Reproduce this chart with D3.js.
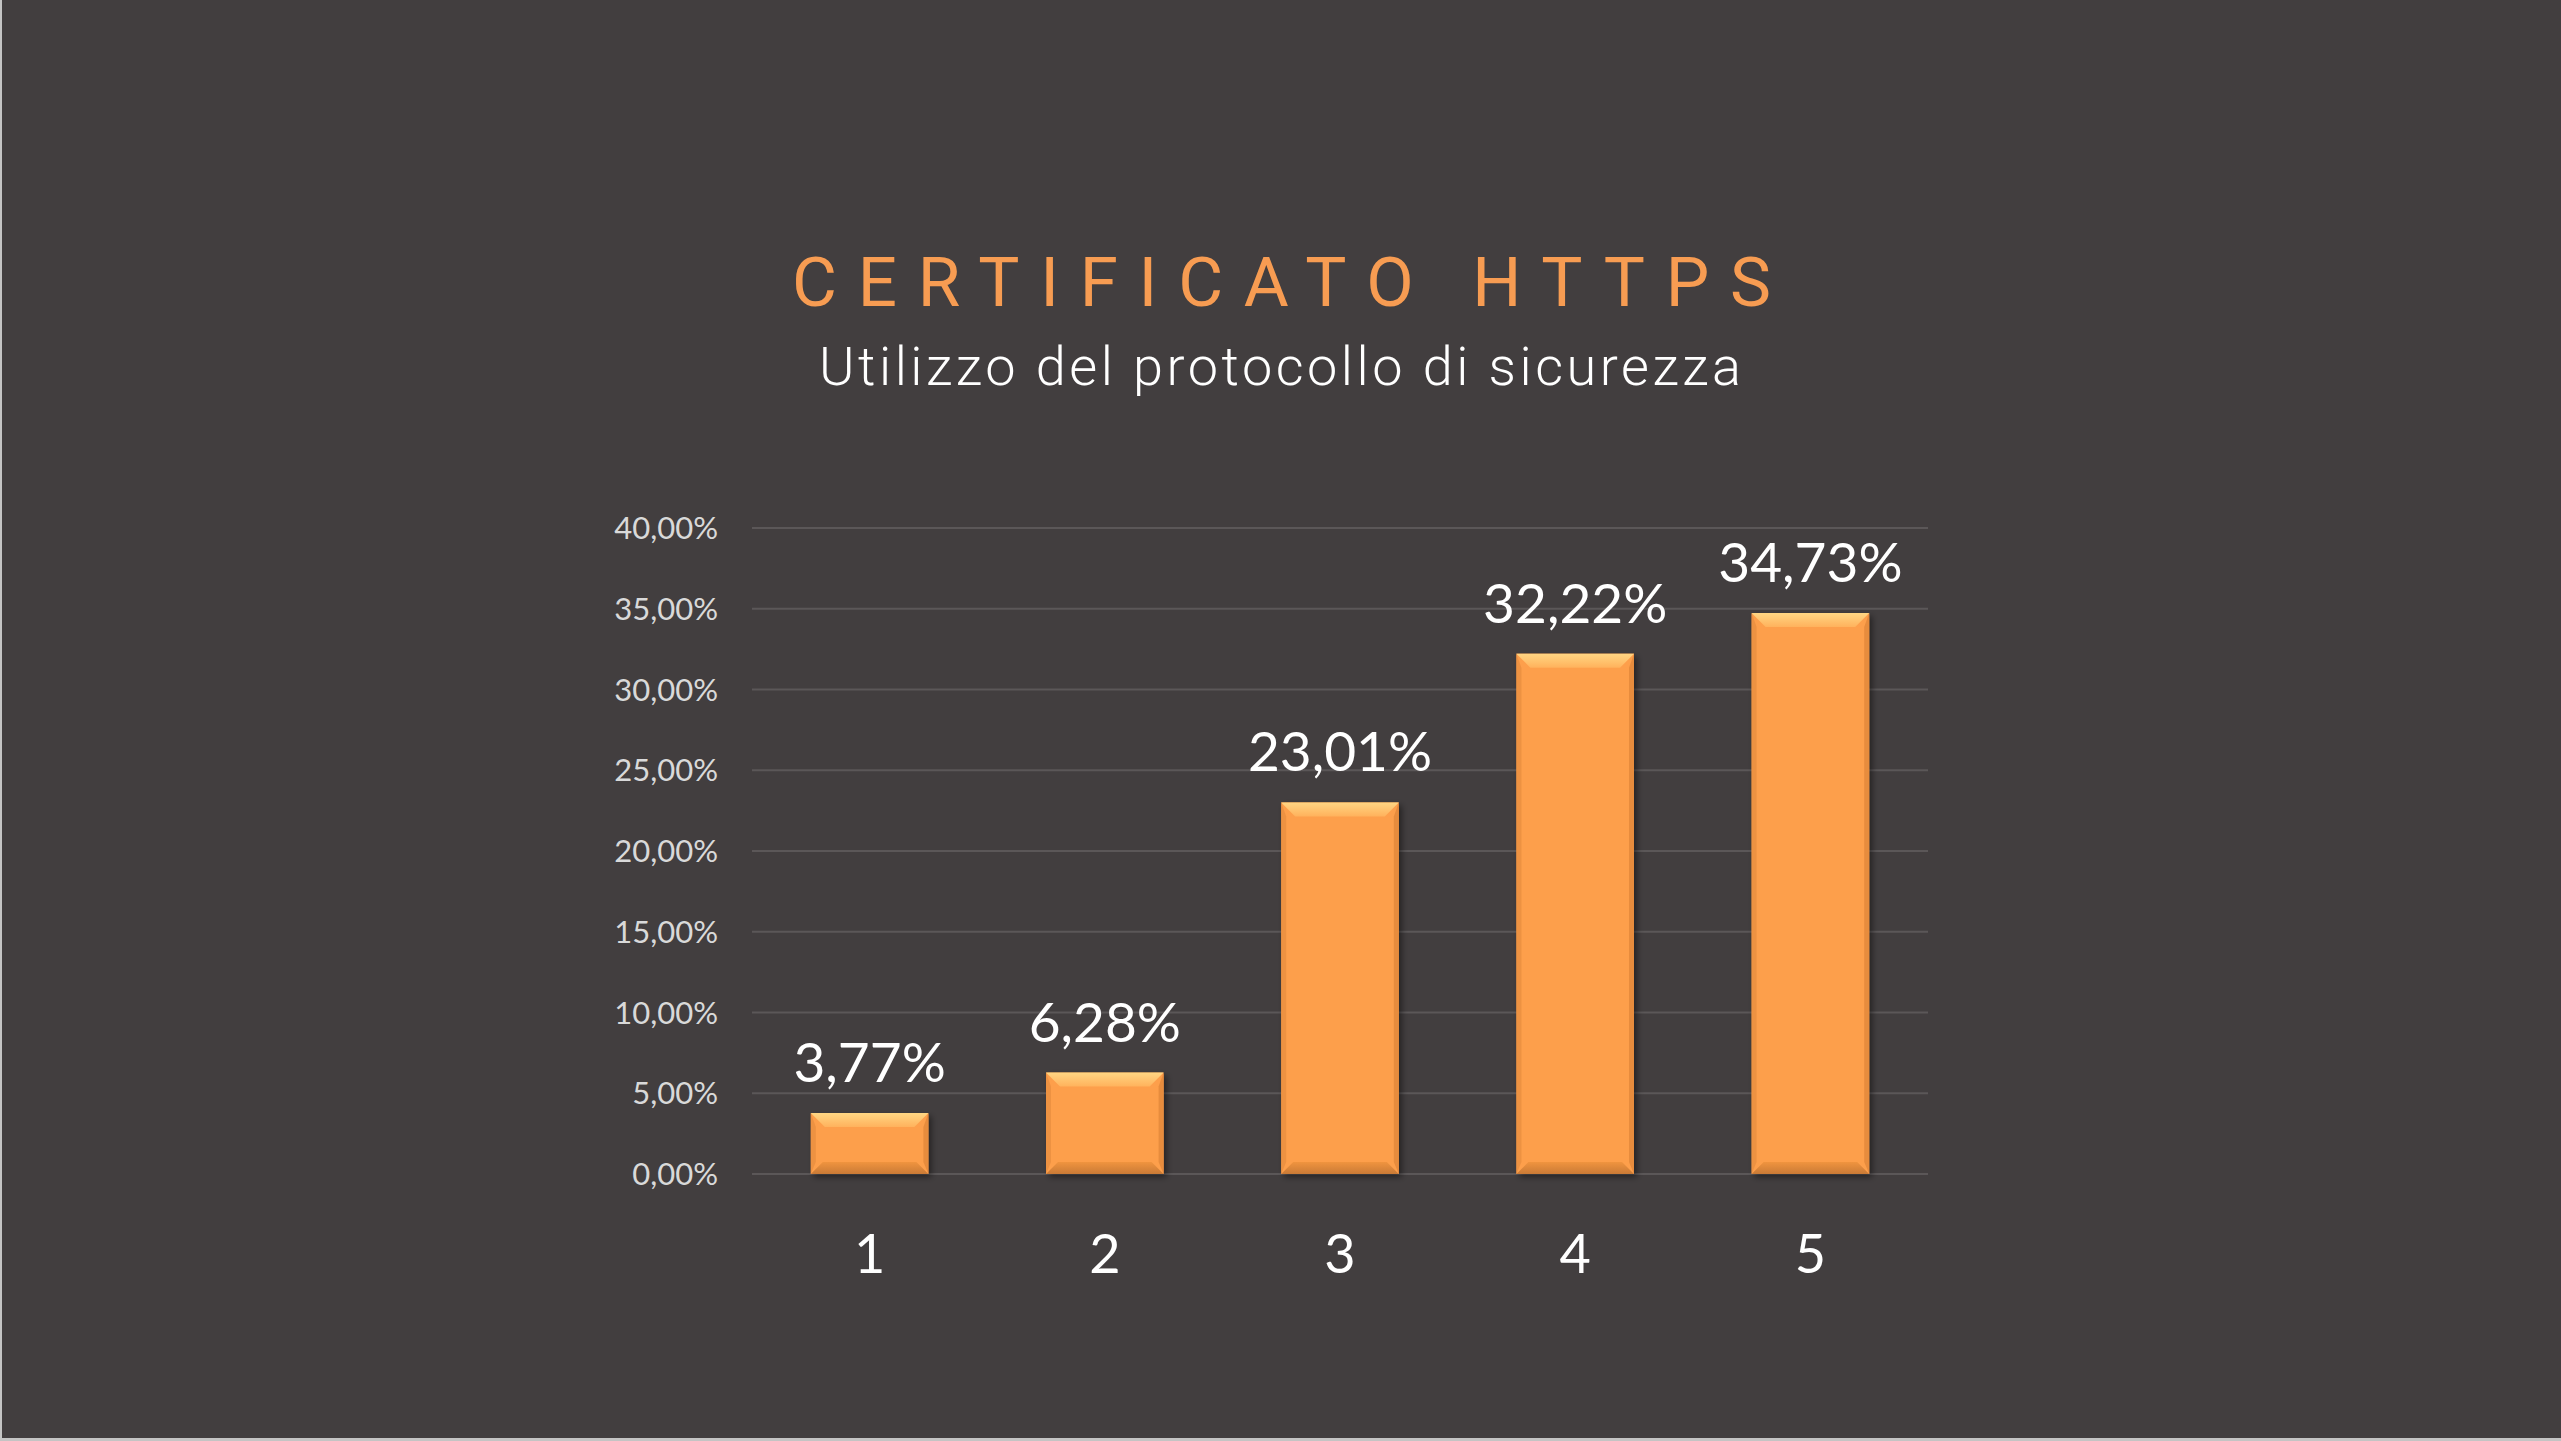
<!doctype html>
<html>
<head>
<meta charset="utf-8">
<script src="https://cdnjs.cloudflare.com/ajax/libs/d3/7.8.5/d3.min.js"></script>
<style>
  html, body { margin: 0; padding: 0; background: #423e3f; overflow: hidden; }
  svg { display: block; }
</style>
</head>
<body>
<svg id="chart" width="2561" height="1441"></svg>
<script>
// chart data
var categories = ["1", "2", "3", "4", "5"];
var values = [3.77, 6.28, 23.01, 32.22, 34.73];
var yTicks = [0, 5, 10, 15, 20, 25, 30, 35, 40];
var titleText = "CERTIFICATO HTTPS";
var subtitleText = "Utilizzo del protocollo di sicurezza";

var W = 2561, H = 1441;
var margin = {left: 752, right: 2561 - 1928, top: 528, bottom: 1441 - 1174};

var svg = d3.select("#chart");

// background + edge strips
svg.append("rect").attr("width", W).attr("height", H).attr("fill", "#423e3f");
svg.append("rect").attr("x", 0).attr("y", 0).attr("width", 2).attr("height", H).attr("fill", "#c4c4c4");
svg.append("rect").attr("x", 0).attr("y", H - 3).attr("width", W).attr("height", 3).attr("fill", "#c4c4c4");

var defs = svg.append("defs");
var f = defs.append("filter").attr("id", "shadow").attr("x", "-20%").attr("y", "-20%").attr("width", "150%").attr("height", "150%");
f.append("feDropShadow").attr("dx", 3).attr("dy", 3).attr("stdDeviation", 3)
  .attr("flood-color", "#000").attr("flood-opacity", 0.45);

var gTop = defs.append("linearGradient").attr("id", "bevTop").attr("x1", 0).attr("y1", 0).attr("x2", 0).attr("y2", 1);
gTop.append("stop").attr("offset", "0%").attr("stop-color", "#ffd683");
gTop.append("stop").attr("offset", "100%").attr("stop-color", "#ffb25c");

var gBot = defs.append("linearGradient").attr("id", "bevBot").attr("x1", 0).attr("y1", 0).attr("x2", 0).attr("y2", 1);
gBot.append("stop").attr("offset", "0%").attr("stop-color", "#f0943f");
gBot.append("stop").attr("offset", "100%").attr("stop-color", "#c97a36");

// titles
svg.append("text")
  .attr("x", 792).attr("y", 306)
  .attr("textLength", 979).attr("lengthAdjust", "spacing")
  .style("font-family", "Roboto").style("font-weight", 400).style("font-size", "69px")
  .style("fill", "#f79c52")
  .text(titleText);

svg.append("text")
  .attr("x", 819).attr("y", 385)
  .attr("textLength", 922).attr("lengthAdjust", "spacing")
  .style("font-family", "Roboto").style("font-weight", 300).style("font-size", "54px")
  .style("fill", "#ffffff")
  .text(subtitleText);

// scales
var x = d3.scaleBand().domain(categories).range([margin.left, W - margin.right]).paddingInner(0.5).paddingOuter(0.25);
var y = d3.scaleLinear().domain([0, 40]).range([H - margin.bottom, margin.top]);

// gridlines
svg.append("g").selectAll("line").data(yTicks).enter().append("line")
  .attr("x1", margin.left).attr("x2", W - margin.right)
  .attr("y1", d => y(d)).attr("y2", d => y(d))
  .attr("stroke", "#5b5758").attr("stroke-width", 2);

// y axis labels
var fmt = d => d.toFixed(2).replace(".", ",") + "%";
svg.append("g").selectAll("text").data(yTicks).enter().append("text")
  .attr("x", 718).attr("y", d => y(d)).attr("dy", "0.36em")
  .attr("text-anchor", "end")
  .style("font-family", "Lato").style("font-size", "31px").style("fill", "#d9d9d9")
  .text(fmt);

// bars
var bw = x.bandwidth();
var bars = svg.append("g").selectAll("g").data(values).enter().append("g")
  .attr("transform", (d, i) => "translate(" + x(categories[i]) + "," + y(d) + ")");

bars.append("rect")
  .attr("width", bw).attr("height", d => y(0) - y(d))
  .attr("fill", "#fd9f4b").attr("filter", "url(#shadow)");

var b = 14, bb = 12, s = 5;
// side bevels
bars.append("path").attr("fill", "#e98f40").attr("opacity", 0.8)
  .attr("d", d => { var h = y(0) - y(d); return `M0,0 L${s},${b} L${s},${h - bb} L0,${h} Z`; });
bars.append("path").attr("fill", "#e3883b").attr("opacity", 0.85)
  .attr("d", d => { var h = y(0) - y(d); return `M${bw},0 L${bw - s},${b} L${bw - s},${h - bb} L${bw},${h} Z`; });
// top bevel
bars.append("path").attr("fill", "url(#bevTop)")
  .attr("d", `M0,0 L${bw},0 L${bw - b},${b} L${b},${b} Z`);
// bottom bevel
bars.append("path").attr("fill", "url(#bevBot)")
  .attr("d", d => { var h = y(0) - y(d); return `M0,${h} L${bw},${h} L${bw - bb},${h - bb} L${bb},${h - bb} Z`; });

// value labels
svg.append("g").selectAll("text").data(values).enter().append("text")
  .attr("x", (d, i) => x(categories[i]) + bw / 2)
  .attr("y", d => y(d) - 31)
  .attr("text-anchor", "middle")
  .style("font-family", "Lato").style("font-size", "55px").style("fill", "#ffffff")
  .text(d => d.toFixed(2).replace(".", ",") + "%");

// x axis labels
svg.append("g").selectAll("text").data(categories).enter().append("text")
  .attr("x", d => x(d) + bw / 2).attr("y", 1273)
  .attr("text-anchor", "middle")
  .style("font-family", "Lato").style("font-size", "54px").style("fill", "#ffffff")
  .text(d => d);
</script>
</body>
</html>
